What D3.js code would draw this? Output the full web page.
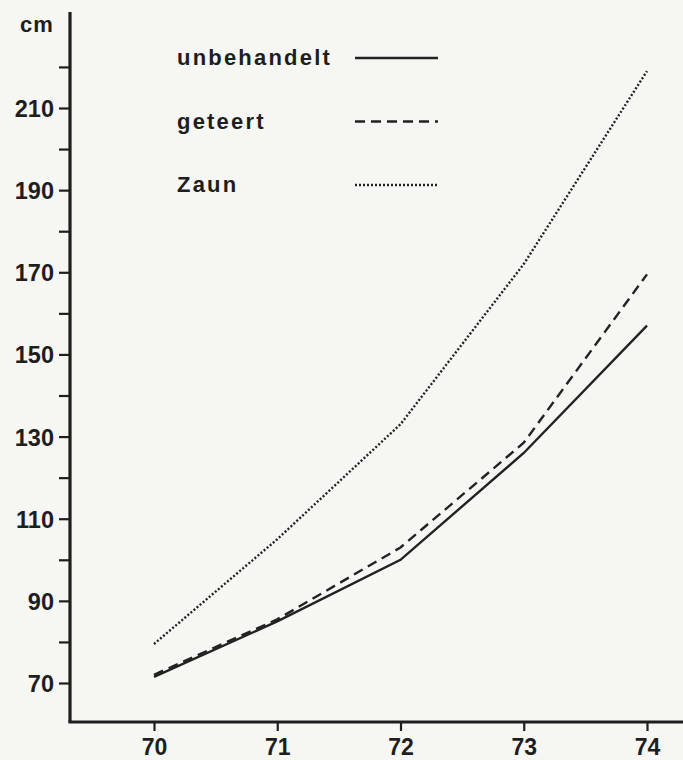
<!DOCTYPE html>
<html>
<head>
<meta charset="utf-8">
<script src="https://cdn.jsdelivr.net/npm/d3@7"></script>
<style>
  body { margin: 0; background: #f6f6f3; }
  svg { display: block; font-family: "Liberation Sans", Arial, sans-serif; }
  .axis path, .axis line { stroke: #1e1e1e; }
  .axis text { fill: #1e1e1e; font-weight: bold; }
  .series { fill: none; stroke: #222; stroke-width: 2.4; }
  .legend-label { font-size: 22px; font-weight: bold; fill: #1e1e1e; letter-spacing: 2.2px; }
</style>
</head>
<body>
<div id="wrapper"></div>
<script>
// Data (years 1970-74, height in cm)
const years = [70, 71, 72, 73, 74];
const unbehandelt = [71.5, 85, 100, 126, 157];
const geteert = [72, 85.5, 103, 128.5, 169.5];
const zaun = [79.5, 105, 133, 172, 219];
const yTicks = [70, 80, 90, 100, 110, 120, 130, 140, 150, 160, 170, 180, 190, 200, 210, 220];
const yLabels = [70, 90, 110, 130, 150, 170, 190, 210];
const seriesNames = ["unbehandelt", "geteert", "Zaun"];

const series = [
  { name: seriesNames[0], values: unbehandelt, dash: null },
  { name: seriesNames[1], values: geteert, dash: "10,6" },
  { name: seriesNames[2], values: zaun, dash: "2,2" },
];

const dimensions = {
  width: 683,
  height: 760,
  margin: { top: 12, right: 0, bottom: 38, left: 70 },
};
dimensions.boundedWidth =
  dimensions.width - dimensions.margin.left - dimensions.margin.right;
dimensions.boundedHeight =
  dimensions.height - dimensions.margin.top - dimensions.margin.bottom;

const wrapper = d3
  .select("#wrapper")
  .append("svg")
  .attr("width", dimensions.width)
  .attr("height", dimensions.height);
const bounds = wrapper
  .append("g")
  .attr("transform", `translate(${dimensions.margin.left},${dimensions.margin.top})`);

// Scales (pixel range picked to match the printed grid)
const xScale = d3.scaleLinear().domain([70, 74]).range([84, 577]);
const yScale = d3.scaleLinear().domain([70, 210]).range([671, 96]);

// Axes
const yAxisGenerator = d3
  .axisLeft(yScale)
  .tickValues(yTicks)
  .tickSize(11)
  .tickPadding(5)
  .tickFormat((d) => (yLabels.includes(d) ? d : ""));
const yAxis = bounds.append("g").attr("class", "axis y-axis").call(yAxisGenerator);
yAxis.select(".domain").remove();
yAxis.selectAll("line").attr("stroke-width", 2.2);
yAxis.selectAll("text").style("font-size", "23.5px").attr("dy", "0.36em");
bounds
  .append("line")
  .attr("class", "axis-line")
  .attr("x1", 0).attr("x2", 0)
  .attr("y1", 0).attr("y2", dimensions.boundedHeight)
  .attr("stroke", "#1e1e1e")
  .attr("stroke-width", 3.2);

const xAxisGenerator = d3
  .axisBottom(xScale)
  .tickValues(years)
  .tickSize(9)
  .tickPadding(8)
  .tickFormat((d) => d);
const xAxis = bounds
  .append("g")
  .attr("class", "axis x-axis")
  .attr("transform", `translate(0,${dimensions.boundedHeight})`)
  .call(xAxisGenerator);
xAxis.select(".domain").remove();
xAxis.selectAll("line").attr("stroke-width", 2.2);
xAxis.selectAll("text").style("font-size", "23px");
bounds
  .append("line")
  .attr("x1", -1.6).attr("x2", dimensions.boundedWidth)
  .attr("y1", dimensions.boundedHeight).attr("y2", dimensions.boundedHeight)
  .attr("stroke", "#1e1e1e")
  .attr("stroke-width", 3.2);

// unit label
wrapper
  .append("text")
  .attr("x", 20)
  .attr("y", 32)
  .attr("class", "legend-label")
  .style("letter-spacing", "1px")
  .text("cm");

// Lines
const lineGenerator = d3
  .line()
  .x((d, i) => xScale(years[i]))
  .y((d) => yScale(d));
bounds
  .selectAll(".series")
  .data(series)
  .enter()
  .append("path")
  .attr("class", "series")
  .attr("d", (d) => lineGenerator(d.values))
  .attr("stroke-dasharray", (d) => d.dash)
  .attr("stroke-width", (d, i) => (i === 2 ? 2.2 : 2.4));

// Legend
const legend = wrapper.append("g").attr("class", "legend");
const legendItems = legend
  .selectAll("g")
  .data(series)
  .enter()
  .append("g")
  .attr("transform", (d, i) => `translate(0,${58 + i * 63.5})`);
legendItems
  .append("text")
  .attr("class", "legend-label")
  .attr("x", 177)
  .attr("y", 7)
  .text((d) => d.name);
legendItems
  .append("line")
  .attr("x1", 355)
  .attr("x2", 438)
  .attr("y1", 0)
  .attr("y2", 0)
  .attr("stroke", "#222")
  .attr("stroke-width", 2.4)
  .attr("stroke-dasharray", (d) => d.dash);
</script>
</body>
</html>
